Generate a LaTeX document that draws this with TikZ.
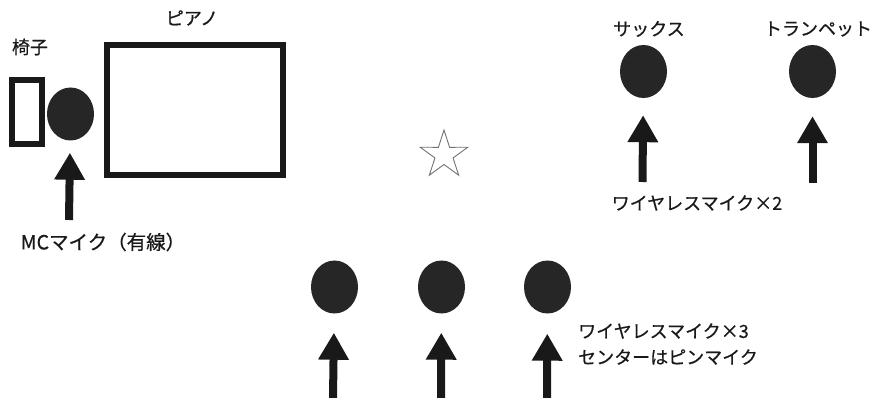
\documentclass[tikz,border=0pt]{standalone}
\usepackage{fontspec}
\setmainfont{Noto Sans CJK JP}[FakeBold=0.6]
\usetikzlibrary{shapes.geometric,arrows.meta,calc}
\tikzset{
  mic/.style={ellipse, fill=black!85, draw=none, inner sep=0pt, minimum width=47pt, minimum height=53pt},
  frame/.style={draw=black!90, line width=6.5pt, fill=none, inner sep=0pt},
  micarrow/.style={line width=8pt, black!90, -{Triangle[width=29pt,length=27pt]}},
  lbl/.style={font=\fontsize{18}{21}\selectfont, text=black!90, inner sep=0pt},
}
\begin{document}
\begin{tikzpicture}[x=1pt,y=-1pt]
\useasboundingbox (0,0) rectangle (876,398);
% furniture
\node[frame, minimum width=30pt, minimum height=64pt] (chair) at (27,112) {};
\node[frame, minimum width=176pt, minimum height=130pt] (piano) at (195,110) {};
\node[lbl] (lchair) at (30,47) {椅子};
\node[lbl] (lpiano) at (192,18) {ピアノ};
% mics
\node[mic] (mc) at (70.5,114) {};
\node[mic] (sax) at (643.5,71.5) {};
\node[mic] (tp) at (812.5,71.5) {};
\node[mic] (v1) at (334.5,287) {};
\node[mic] (v2) at (441.5,287) {};
\node[mic] (v3) at (547.5,287) {};
% labels
\node[lbl] (lsax) at (649,29) {サックス};
\node[lbl] (ltp) at (818,29) {トランペット};
\node[lbl, font=\fontsize{19.5}{22}\selectfont] (lmc) at (103,242) {MCマイク（有線）};
\node[lbl] (lw2) at (697,203) {ワイヤレスマイク×2};
\node[lbl, anchor=west] (lw3) at (578,331) {ワイヤレスマイク×3};
\node[lbl, anchor=west] (lpin) at (578,357) {センターはピンマイク};
% arrow feet
\coordinate (fmc) at (69,220);
\coordinate (fsax) at (642.5,182);
\coordinate (ftp) at (812.5,183);
\coordinate (f1) at (333,398);
\coordinate (f2) at (441,398);
\coordinate (f3) at (547,398);
\draw[micarrow, shorten >=12pt] (fmc) -- (mc);
\draw[micarrow, shorten >=17pt] (fsax) -- (sax);
\draw[micarrow, shorten >=18pt] (ftp) -- (tp);
\draw[micarrow, shorten >=19pt] (f1) -- (v1);
\draw[micarrow, shorten >=19pt] (f2) -- (v2);
\draw[micarrow, shorten >=20pt] (f3) -- (v3);
% centre star
\coordinate (starc) at (444,155);
\draw[black!55, line width=0.9pt, line join=miter]
  ($(starc)+(90:-25)$) -- ($(starc)+(126:-9.5)$) -- ($(starc)+(162:-25)$) -- ($(starc)+(198:-9.5)$)
  -- ($(starc)+(234:-25)$) -- ($(starc)+(270:-9.5)$) -- ($(starc)+(306:-25)$) -- ($(starc)+(342:-9.5)$)
  -- ($(starc)+(18:-25)$) -- ($(starc)+(54:-9.5)$) -- cycle;
\end{tikzpicture}
\end{document}
